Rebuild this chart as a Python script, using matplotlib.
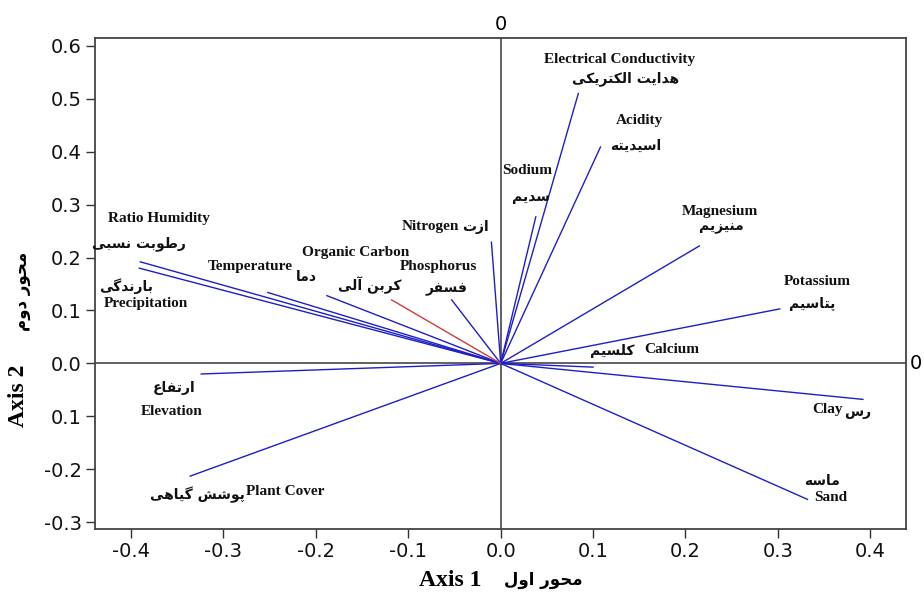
import matplotlib
matplotlib.use("Agg")
import matplotlib.pyplot as plt

# loadings
var_en = ["Ratio Humidity", "Precipitation", "Temperature", "Organic Carbon",
          "Phosphorus", "Nitrogen", "Sodium", "Electrical Conductivity",
          "Acidity", "Magnesium", "Potassium", "Calcium", "Clay", "Sand",
          "Elevation", "Plant Cover"]
var_fa = ["رطوبت نسبی", "بارندگی", "دما", "کربن آلی", "فسفر", "ازت", "سدیم",
          "هدایت الکتریکی", "اسیدیته", "منیزیم", "پتاسیم", "کلسیم", "رس",
          "ماسه", "ارتفاع", "پوشش گیاهی"]
axis1 = [-0.390, -0.391, -0.252, -0.188, -0.053, -0.010, 0.038, 0.084,
         0.108, 0.215, 0.302, 0.100, 0.392, 0.332, -0.324, -0.336]
axis2 = [0.192, 0.180, 0.134, 0.128, 0.120, 0.229, 0.277, 0.510,
         0.409, 0.222, 0.103, -0.007, -0.068, -0.257, -0.020, -0.213]
red_x = [-0.118]
red_y = [0.120]

x_ticks = [-0.4, -0.3, -0.2, -0.1, 0.0, 0.1, 0.2, 0.3, 0.4]
y_ticks = [-0.3, -0.2, -0.1, 0.0, 0.1, 0.2, 0.3, 0.4, 0.5, 0.6]
y_tick_labels = ["-0.3", "-0.2", "0.1", "0.0", "0.1", "0.2", "0.3", "0.4", "0.5", "0.6"]

# label placement (data coords): english centre, persian centre
label_pos = {
    "Ratio Humidity": ((-0.370, 0.273), (-0.391, 0.227)),
    "Precipitation": ((-0.384, 0.113), (-0.4055, 0.146)),
    "Temperature": ((-0.271, 0.184), (-0.210, 0.163)),
    "Organic Carbon": ((-0.157, 0.2095), (-0.1415, 0.147)),
    "Phosphorus": ((-0.0668, 0.184), (-0.0584, 0.1405)),
    "Nitrogen": ((-0.0765, 0.2596), (-0.0267, 0.2575)),
    "Sodium": ((0.029, 0.365), (0.0325, 0.315)),
    "Electrical Conductivity": ((0.1286, 0.574), (0.1356, 0.539)),
    "Acidity": ((0.1497, 0.459), (0.1465, 0.411)),
    "Magnesium": ((0.2373, 0.288), (0.239, 0.2586)),
    "Potassium": ((0.343, 0.1556), (0.3366, 0.112)),
    "Calcium": ((0.185, 0.027), (0.1205, 0.023)),
    "Clay": ((0.3537, -0.0865), (0.386, -0.091)),
    "Sand": ((0.357, -0.2537), (0.348, -0.2225)),
    "Elevation": ((-0.3557, -0.0911), (-0.3536, -0.0457)),
    "Plant Cover": ((-0.2334, -0.2423), (-0.3276, -0.249)),
}

# minimal persian shaping: (isolated, final, initial, medial)
FORMS = {
    "ا": ("\uFE8D", "\uFE8E", None, None),
    "آ": ("\uFE81", "\uFE82", None, None),
    "ب": ("\uFE8F", "\uFE90", "\uFE91", "\uFE92"),
    "پ": ("\uFB56", "\uFB57", "\uFB58", "\uFB59"),
    "ت": ("\uFE95", "\uFE96", "\uFE97", "\uFE98"),
    "ح": ("\uFEA1", "\uFEA2", "\uFEA3", "\uFEA4"),
    "د": ("\uFEA9", "\uFEAA", None, None),
    "ر": ("\uFEAD", "\uFEAE", None, None),
    "ز": ("\uFEAF", "\uFEB0", None, None),
    "س": ("\uFEB1", "\uFEB2", "\uFEB3", "\uFEB4"),
    "ش": ("\uFEB5", "\uFEB6", "\uFEB7", "\uFEB8"),
    "ط": ("\uFEC1", "\uFEC2", "\uFEC3", "\uFEC4"),
    "ع": ("\uFEC9", "\uFECA", "\uFECB", "\uFECC"),
    "ف": ("\uFED1", "\uFED2", "\uFED3", "\uFED4"),
    "ک": ("\uFB8E", "\uFB8F", "\uFB90", "\uFB91"),
    "گ": ("\uFB92", "\uFB93", "\uFB94", "\uFB95"),
    "ل": ("\uFEDD", "\uFEDE", "\uFEDF", "\uFEE0"),
    "م": ("\uFEE1", "\uFEE2", "\uFEE3", "\uFEE4"),
    "ن": ("\uFEE5", "\uFEE6", "\uFEE7", "\uFEE8"),
    "ه": ("\uFEE9", "\uFEEA", "\uFEEB", "\uFEEC"),
    "و": ("\uFEED", "\uFEEE", None, None),
    "ی": ("\uFBFC", "\uFBFD", "\uFBFE", "\uFBFF"),
}


def fa(text):
    out = []
    for i, ch in enumerate(text):
        if ch not in FORMS:
            out.append(ch)
            continue
        prev = text[i - 1] if i > 0 else None
        nxt = text[i + 1] if i < len(text) - 1 else None
        join_prev = prev in FORMS and FORMS[prev][2] is not None
        join_next = FORMS[ch][2] is not None and nxt in FORMS
        iso, fin, ini, med = FORMS[ch]
        if join_prev and join_next:
            out.append(med)
        elif join_prev:
            out.append(fin)
        elif join_next:
            out.append(ini)
        else:
            out.append(iso)
    return "".join(reversed(out))


EN = dict(family="Liberation Serif", weight="bold", fontsize=11, color="#111111")
FA = dict(family=["DejaVu Sans"], weight="bold", fontsize=10, color="#111111")

fig = plt.figure(figsize=(9.24, 5.92), dpi=100)
ax = fig.add_axes([0.1028, 0.1064, 0.8777, 0.8294])

ax.axhline(0, color="#555555", lw=1.3, zorder=1)
ax.axvline(0, color="#555555", lw=1.3, zorder=1)

for x, y in zip(axis1, axis2):
    ax.plot([0, x], [0, y], color="#1e1ec8", lw=1.0, zorder=2)
for x, y in zip(red_x, red_y):
    ax.plot([0, x], [0, y], color="#d23c3c", lw=1.0, zorder=2)

for en, p in zip(var_en, var_fa):
    (ex, ey), (px, py) = label_pos[en]
    ax.text(ex, ey, en, ha="center", va="center", **EN)
    ax.text(px, py, fa(p), ha="center", va="center", **FA)

ax.set_xlim(-0.439, 0.4386)
ax.set_ylim(-0.313, 0.615)
ax.set_xticks(x_ticks)
ax.set_xticklabels([f"{v:.1f}" for v in x_ticks])
ax.set_yticks(y_ticks)
ax.set_yticklabels(y_tick_labels)
ax.tick_params(direction="out", length=6.5, width=1.0, labelsize=14, pad=3,
               colors="#333333", labelcolor="#111111")
for s in ax.spines.values():
    s.set_color("#444444")
    s.set_linewidth(1.3)

# zero markers on the top and right edges
ax.annotate("0", (0, 1), xycoords=("data", "axes fraction"), xytext=(0, 3),
            textcoords="offset points", ha="center", va="bottom", fontsize=14)
ax.annotate("0", (1, 0), xycoords=("axes fraction", "data"), xytext=(3, 0),
            textcoords="offset points", ha="left", va="center", fontsize=14)

# axis titles
fig.text(450 / 924, 1 - 580 / 592, "Axis 1", ha="center", va="center",
         family="Liberation Serif", weight="bold", fontsize=17)
fig.text(543 / 924, 1 - 580 / 592, fa("محور اول"), ha="center", va="center",
         family=["DejaVu Sans"], weight="bold", fontsize=12)
fig.text(18 / 924, 1 - 396 / 592, "Axis 2", ha="center", va="center", rotation=90,
         family="Liberation Serif", weight="bold", fontsize=17)
fig.text(22 / 924, 1 - 291 / 592, fa("محور دوم"), ha="center", va="center",
         rotation=90, family=["DejaVu Sans"], weight="bold", fontsize=12)

fig.savefig("out.png", dpi=100, facecolor="white")
